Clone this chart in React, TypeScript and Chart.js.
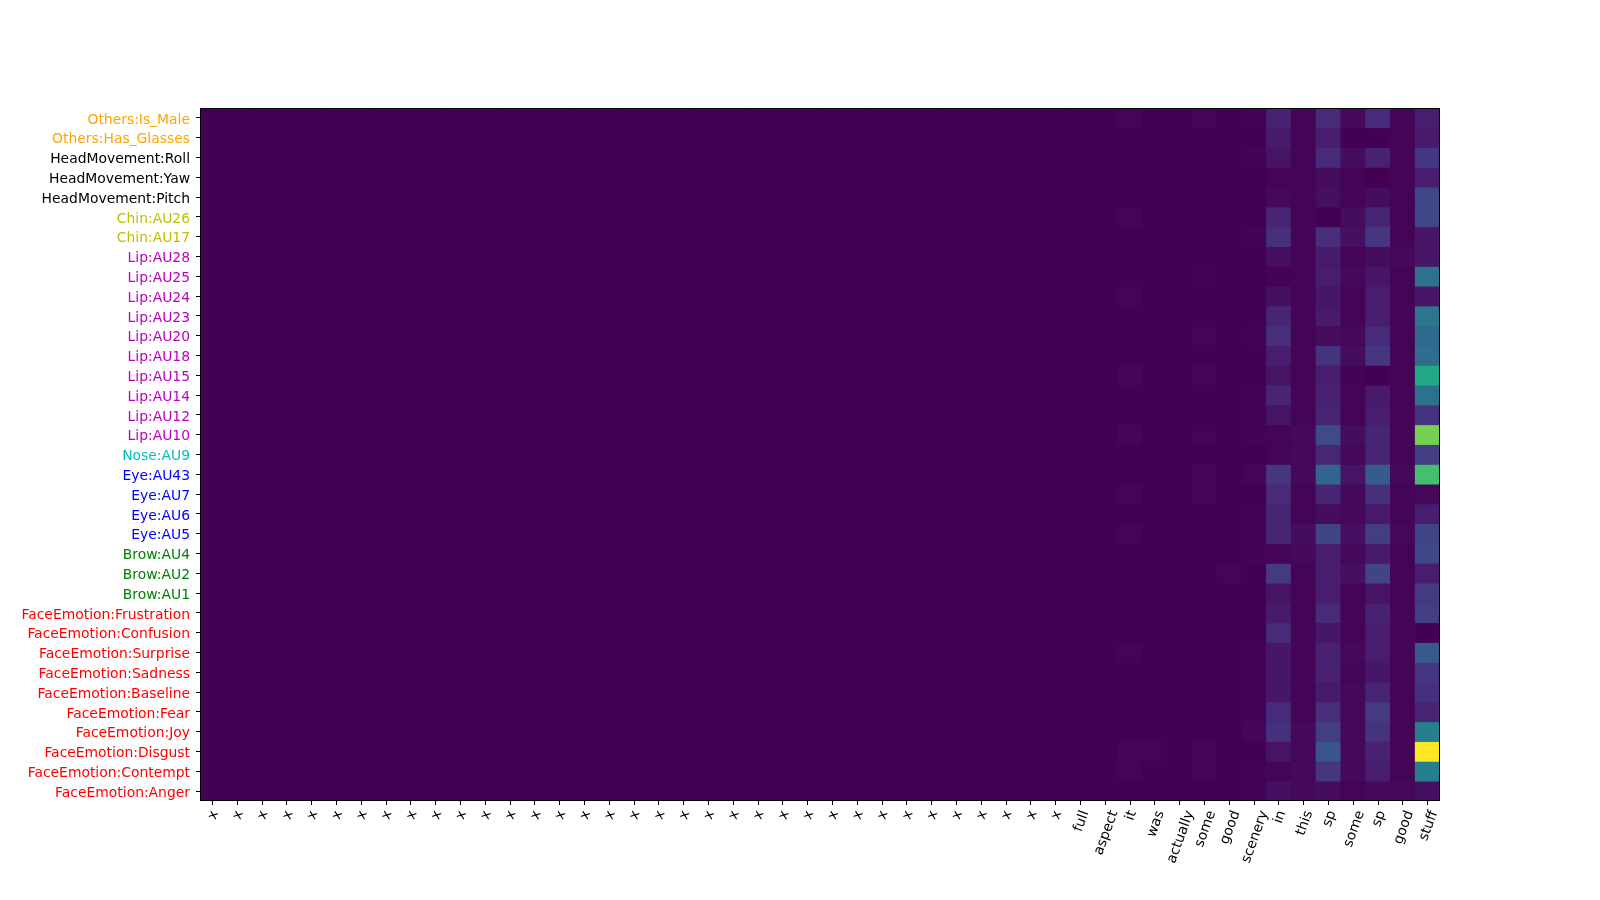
import React, { useEffect, useRef } from "react";
import { Chart, registerables } from "chart.js";

Chart.register(...registerables);

const wordLabels = [
  "x", "x", "x", "x", "x", "x", "x", "x", "x", "x",
  "x", "x", "x", "x", "x", "x", "x", "x", "x", "x",
  "x", "x", "x", "x", "x", "x", "x", "x", "x", "x",
  "x", "x", "x", "x", "x",
  "full", "aspect", "it", "was", "actually", "some", "good", "scenery",
  "in", "this", "sp", "some", "sp", "good", "stuff",
];

const featureLabels = [
  "Others:Is_Male", "Others:Has_Glasses",
  "HeadMovement:Roll", "HeadMovement:Yaw", "HeadMovement:Pitch",
  "Chin:AU26", "Chin:AU17",
  "Lip:AU28", "Lip:AU25", "Lip:AU24", "Lip:AU23", "Lip:AU20",
  "Lip:AU18", "Lip:AU15", "Lip:AU14", "Lip:AU12", "Lip:AU10",
  "Nose:AU9",
  "Eye:AU43", "Eye:AU7", "Eye:AU6", "Eye:AU5",
  "Brow:AU4", "Brow:AU2", "Brow:AU1",
  "FaceEmotion:Frustration", "FaceEmotion:Confusion", "FaceEmotion:Surprise",
  "FaceEmotion:Sadness", "FaceEmotion:Baseline", "FaceEmotion:Fear",
  "FaceEmotion:Joy", "FaceEmotion:Disgust", "FaceEmotion:Contempt", "FaceEmotion:Anger",
];

const featureColors = [
  "#ffa500", "#ffa500",
  "#000000", "#000000", "#000000",
  "#bfbf00", "#bfbf00",
  "#bf00bf", "#bf00bf", "#bf00bf", "#bf00bf", "#bf00bf",
  "#bf00bf", "#bf00bf", "#bf00bf", "#bf00bf", "#bf00bf",
  "#00bfbf",
  "#0000ff", "#0000ff", "#0000ff", "#0000ff",
  "#008000", "#008000", "#008000",
  "#ff0000", "#ff0000", "#ff0000", "#ff0000", "#ff0000",
  "#ff0000", "#ff0000", "#ff0000", "#ff0000", "#ff0000",
];

// attention values, one row per feature, one column per word (normalized 0..1)
const rowIsMale      = [0,0,0,0,0,0,0,0,0,0, 0,0,0,0,0,0,0,0,0,0, 0,0,0,0,0,0,0,0,0,0, 0,0,0,0,0, 0,0,0.008,0,0,0.008,0,0.006, 0.09,0.01,0.12,0.02,0.12,0.01,0.08];
const rowHasGlasses  = [0,0,0,0,0,0,0,0,0,0, 0,0,0,0,0,0,0,0,0,0, 0,0,0,0,0,0,0,0,0,0, 0,0,0,0,0, 0,0,0,0,0,0,0,0, 0.07,0.01,0.08,0,0,0.01,0.07];
const rowRoll        = [0,0,0,0,0,0,0,0,0,0, 0,0,0,0,0,0,0,0,0,0, 0,0,0,0,0,0,0,0,0,0, 0,0,0,0,0, 0,0,0,0,0,0,0,0.006, 0.05,0.01,0.12,0.03,0.09,0.01,0.16];
const rowYaw         = [0,0,0,0,0,0,0,0,0,0, 0,0,0,0,0,0,0,0,0,0, 0,0,0,0,0,0,0,0,0,0, 0,0,0,0,0, 0,0,0,0,0,0,0,0, 0.01,0.01,0.03,0.01,0,0.01,0.08];
const rowPitch       = [0,0,0,0,0,0,0,0,0,0, 0,0,0,0,0,0,0,0,0,0, 0,0,0,0,0,0,0,0,0,0, 0,0,0,0,0, 0,0,0,0,0,0,0,0, 0.02,0.01,0.04,0.01,0.03,0.01,0.21];
const rowAU26        = [0,0,0,0,0,0,0,0,0,0, 0,0,0,0,0,0,0,0,0,0, 0,0,0,0,0,0,0,0,0,0, 0,0,0,0,0, 0,0,0.008,0,0,0,0,0, 0.1,0.01,0,0.03,0.1,0.01,0.21];
const rowAU17        = [0,0,0,0,0,0,0,0,0,0, 0,0,0,0,0,0,0,0,0,0, 0,0,0,0,0,0,0,0,0,0, 0,0,0,0,0, 0,0,0,0,0,0,0,0.006, 0.14,0.01,0.13,0.04,0.16,0.01,0.06];
const rowAU28        = [0,0,0,0,0,0,0,0,0,0, 0,0,0,0,0,0,0,0,0,0, 0,0,0,0,0,0,0,0,0,0, 0,0,0,0,0, 0,0,0,0,0,0,0,0, 0.04,0.01,0.07,0.01,0.03,0.02,0.06];
const rowAU25        = [0,0,0,0,0,0,0,0,0,0, 0,0,0,0,0,0,0,0,0,0, 0,0,0,0,0,0,0,0,0,0, 0,0,0,0,0, 0,0,0,0,0,0.006,0,0, 0.005,0.01,0.08,0.02,0.06,0.01,0.37];
const rowAU24        = [0,0,0,0,0,0,0,0,0,0, 0,0,0,0,0,0,0,0,0,0, 0,0,0,0,0,0,0,0,0,0, 0,0,0,0,0, 0,0,0.008,0,0,0,0,0, 0.04,0.01,0.06,0.01,0.08,0.01,0.06];
const rowAU23        = [0,0,0,0,0,0,0,0,0,0, 0,0,0,0,0,0,0,0,0,0, 0,0,0,0,0,0,0,0,0,0, 0,0,0,0,0, 0,0,0,0,0,0,0,0, 0.1,0.01,0.07,0.01,0.08,0.01,0.39];
const rowAU20        = [0,0,0,0,0,0,0,0,0,0, 0,0,0,0,0,0,0,0,0,0, 0,0,0,0,0,0,0,0,0,0, 0,0,0,0,0, 0,0,0,0,0,0.008,0,0.006, 0.14,0.01,0.03,0.02,0.12,0.01,0.34];
const rowAU18        = [0,0,0,0,0,0,0,0,0,0, 0,0,0,0,0,0,0,0,0,0, 0,0,0,0,0,0,0,0,0,0, 0,0,0,0,0, 0,0,0,0,0,0,0,0, 0.08,0.01,0.15,0.03,0.16,0.01,0.35];
const rowAU15        = [0,0,0,0,0,0,0,0,0,0, 0,0,0,0,0,0,0,0,0,0, 0,0,0,0,0,0,0,0,0,0, 0,0,0,0,0, 0,0,0.014,0,0,0.012,0,0, 0.05,0.01,0.08,0.005,0,0.01,0.6];
const rowAU14        = [0,0,0,0,0,0,0,0,0,0, 0,0,0,0,0,0,0,0,0,0, 0,0,0,0,0,0,0,0,0,0, 0,0,0,0,0, 0,0,0,0,0,0,0,0.006, 0.1,0.01,0.09,0.01,0.07,0.01,0.37];
const rowAU12        = [0,0,0,0,0,0,0,0,0,0, 0,0,0,0,0,0,0,0,0,0, 0,0,0,0,0,0,0,0,0,0, 0,0,0,0,0, 0,0,0,0,0,0,0,0.006, 0.05,0.01,0.1,0.01,0.08,0.01,0.15];
const rowAU10        = [0,0,0,0,0,0,0,0,0,0, 0,0,0,0,0,0,0,0,0,0, 0,0,0,0,0,0,0,0,0,0, 0,0,0,0,0, 0,0,0.012,0,0,0.008,0,0.006, 0.01,0.02,0.23,0.03,0.1,0.01,0.79];
const rowAU9         = [0,0,0,0,0,0,0,0,0,0, 0,0,0,0,0,0,0,0,0,0, 0,0,0,0,0,0,0,0,0,0, 0,0,0,0,0, 0,0,0,0,0,0,0,0, 0.01,0.02,0.11,0.02,0.1,0.01,0.18];
const rowAU43        = [0,0,0,0,0,0,0,0,0,0, 0,0,0,0,0,0,0,0,0,0, 0,0,0,0,0,0,0,0,0,0, 0,0,0,0,0, 0,0,0,0,0,0.008,0,0.008, 0.16,0.02,0.32,0.05,0.29,0.02,0.7];
const rowAU7         = [0,0,0,0,0,0,0,0,0,0, 0,0,0,0,0,0,0,0,0,0, 0,0,0,0,0,0,0,0,0,0, 0,0,0,0,0, 0,0,0.008,0,0,0.008,0,0, 0.12,0.01,0.1,0.02,0.14,0.01,0.02];
const rowAU6         = [0,0,0,0,0,0,0,0,0,0, 0,0,0,0,0,0,0,0,0,0, 0,0,0,0,0,0,0,0,0,0, 0,0,0,0,0, 0,0,0,0,0,0,0,0.006, 0.1,0.01,0.03,0.02,0.07,0.01,0.08];
const rowAU5         = [0,0,0,0,0,0,0,0,0,0, 0,0,0,0,0,0,0,0,0,0, 0,0,0,0,0,0,0,0,0,0, 0,0,0,0,0, 0,0,0.008,0,0,0,0,0.006, 0.1,0.03,0.2,0.04,0.18,0.02,0.2];
const rowAU4         = [0,0,0,0,0,0,0,0,0,0, 0,0,0,0,0,0,0,0,0,0, 0,0,0,0,0,0,0,0,0,0, 0,0,0,0,0, 0,0,0,0,0,0,0,0.006, 0.01,0.02,0.08,0.02,0.07,0.01,0.21];
const rowAU2         = [0,0,0,0,0,0,0,0,0,0, 0,0,0,0,0,0,0,0,0,0, 0,0,0,0,0,0,0,0,0,0, 0,0,0,0,0, 0,0,0,0,0,0,0.008,0, 0.17,0.01,0.08,0.04,0.2,0.01,0.08];
const rowAU1         = [0,0,0,0,0,0,0,0,0,0, 0,0,0,0,0,0,0,0,0,0, 0,0,0,0,0,0,0,0,0,0, 0,0,0,0,0, 0,0,0,0,0,0,0,0, 0.05,0.01,0.08,0.01,0.05,0.01,0.17];
const rowFrustration = [0,0,0,0,0,0,0,0,0,0, 0,0,0,0,0,0,0,0,0,0, 0,0,0,0,0,0,0,0,0,0, 0,0,0,0,0, 0,0,0,0,0,0,0,0, 0.07,0.01,0.12,0.01,0.09,0.01,0.18];
const rowConfusion   = [0,0,0,0,0,0,0,0,0,0, 0,0,0,0,0,0,0,0,0,0, 0,0,0,0,0,0,0,0,0,0, 0,0,0,0,0, 0,0,0,0,0,0,0,0, 0.12,0.01,0.06,0.01,0.08,0.01,0];
const rowSurprise    = [0,0,0,0,0,0,0,0,0,0, 0,0,0,0,0,0,0,0,0,0, 0,0,0,0,0,0,0,0,0,0, 0,0,0,0,0, 0,0,0.008,0,0,0,0,0.006, 0.06,0.01,0.09,0.02,0.08,0.01,0.28];
const rowSadness     = [0,0,0,0,0,0,0,0,0,0, 0,0,0,0,0,0,0,0,0,0, 0,0,0,0,0,0,0,0,0,0, 0,0,0,0,0, 0,0,0,0,0,0,0,0.006, 0.06,0.01,0.09,0.01,0.06,0.01,0.16];
const rowBaseline    = [0,0,0,0,0,0,0,0,0,0, 0,0,0,0,0,0,0,0,0,0, 0,0,0,0,0,0,0,0,0,0, 0,0,0,0,0, 0,0,0,0,0,0,0,0.006, 0.06,0.01,0.07,0.02,0.1,0.01,0.14];
const rowFear        = [0,0,0,0,0,0,0,0,0,0, 0,0,0,0,0,0,0,0,0,0, 0,0,0,0,0,0,0,0,0,0, 0,0,0,0,0, 0,0,0,0,0,0,0,0.006, 0.12,0.01,0.13,0.02,0.17,0.01,0.1];
const rowJoy         = [0,0,0,0,0,0,0,0,0,0, 0,0,0,0,0,0,0,0,0,0, 0,0,0,0,0,0,0,0,0,0, 0,0,0,0,0, 0,0,0,0,0,0,0,0.012, 0.14,0.02,0.18,0.02,0.15,0.01,0.43];
const rowDisgust     = [0,0,0,0,0,0,0,0,0,0, 0,0,0,0,0,0,0,0,0,0, 0,0,0,0,0,0,0,0,0,0, 0,0,0,0,0, 0,0,0.012,0.008,0,0.012,0,0, 0.05,0.02,0.26,0.02,0.09,0.01,1.0];
const rowContempt    = [0,0,0,0,0,0,0,0,0,0, 0,0,0,0,0,0,0,0,0,0, 0,0,0,0,0,0,0,0,0,0, 0,0,0,0,0, 0,0,0.008,0,0,0.008,0,0.006, 0.01,0.02,0.16,0.02,0.08,0.01,0.43];
const rowAnger       = [0,0,0,0,0,0,0,0,0,0, 0,0,0,0,0,0,0,0,0,0, 0,0,0,0,0,0,0,0,0,0, 0,0,0,0,0, 0,0,0,0,0,0,0,0.006, 0.04,0.02,0.03,0.01,0.02,0.02,0.04];

const valueRows = [
  rowIsMale, rowHasGlasses, rowRoll, rowYaw, rowPitch, rowAU26, rowAU17,
  rowAU28, rowAU25, rowAU24, rowAU23, rowAU20, rowAU18, rowAU15, rowAU14, rowAU12, rowAU10,
  rowAU9, rowAU43, rowAU7, rowAU6, rowAU5, rowAU4, rowAU2, rowAU1,
  rowFrustration, rowConfusion, rowSurprise, rowSadness, rowBaseline, rowFear,
  rowJoy, rowDisgust, rowContempt, rowAnger,
];

const VIRIDIS = [
  "#440154", "#471365", "#482475", "#46337f", "#414487", "#3b528b", "#355f8d",
  "#2f6c8e", "#2a788e", "#25848e", "#21918c", "#1e9b8a", "#22a884", "#2fb47c",
  "#44bf70", "#5ec962", "#7ad151", "#9bd93c", "#bddf26", "#dfe318", "#fde725",
];

const FONT_FAMILY = "'DejaVu Sans', sans-serif";
const FONT_SIZE = 13.9;
const X_LABEL_ROTATION = 70;

function hexToRgb(h: string) {
  return [parseInt(h.slice(1, 3), 16), parseInt(h.slice(3, 5), 16), parseInt(h.slice(5, 7), 16)];
}

function viridis(t: number, vmin: number, vmax: number) {
  let u = (t - vmin) / (vmax - vmin || 1);
  u = Math.max(0, Math.min(1, u));
  const p = u * (VIRIDIS.length - 1);
  const i = Math.min(Math.floor(p), VIRIDIS.length - 2);
  const f = p - i;
  const a = hexToRgb(VIRIDIS[i]);
  const b = hexToRgb(VIRIDIS[i + 1]);
  const c = a.map((v, k) => Math.round(v + (b[k] - v) * f));
  return `rgb(${c[0]},${c[1]},${c[2]})`;
}

const framePlugin = {
  id: "frame",
  beforeDatasetsDraw(chart: any) {
    const { ctx, chartArea } = chart;
    ctx.save();
    ctx.fillStyle = VIRIDIS[0];
    ctx.fillRect(chartArea.left, chartArea.top, chartArea.right - chartArea.left, chartArea.bottom - chartArea.top);
    ctx.restore();
  },
  afterDatasetsDraw(chart: any) {
    const { ctx, chartArea } = chart;
    ctx.save();
    ctx.strokeStyle = "#000000";
    ctx.lineWidth = 1;
    ctx.strokeRect(
      Math.round(chartArea.left) + 0.5,
      Math.round(chartArea.top) + 0.5,
      Math.round(chartArea.right - chartArea.left) - 1,
      Math.round(chartArea.bottom - chartArea.top) - 1
    );
    ctx.restore();
  },
  // x tick labels rotated about their own centre (matplotlib rotation=70, ha="center")
  afterDraw(chart: any) {
    const { ctx, chartArea } = chart;
    const xScale = chart.scales.x;
    const labels = chart.data.labels as string[];
    const rot = (X_LABEL_ROTATION * Math.PI) / 180;
    const h = 1.164 * FONT_SIZE;
    const top = chartArea.bottom + 7;
    ctx.save();
    ctx.font = `${FONT_SIZE}px ${FONT_FAMILY}`;
    ctx.fillStyle = "#000000";
    ctx.textAlign = "center";
    ctx.textBaseline = "alphabetic";
    labels.forEach((lab, i) => {
      const w = ctx.measureText(lab).width;
      const cx = xScale.getPixelForTick(i);
      const cy = top + (w / 2) * Math.sin(rot) + (h / 2) * Math.cos(rot);
      ctx.save();
      ctx.translate(cx, cy);
      ctx.rotate(-rot);
      ctx.fillText(lab, 0, 0.346 * FONT_SIZE);
      ctx.restore();
    });
    ctx.restore();
  },
};

export default function App() {
  const canvasRef = useRef<HTMLCanvasElement | null>(null);

  useEffect(() => {
    if (!canvasRef.current) return;
    const all = valueRows.flat();
    const vmin = Math.min(...all);
    const vmax = Math.max(...all);

    const datasets = valueRows.map((row, r) => ({
      label: featureLabels[r],
      data: row.map(() => [r, r + 1]),
      backgroundColor: row.map((v) => viridis(v, vmin, vmax)),
      borderWidth: 0,
      borderSkipped: false,
      grouped: false,
      barPercentage: 1,
      categoryPercentage: 1,
    }));

    const font = { family: FONT_FAMILY, size: FONT_SIZE };

    const chart = new Chart(canvasRef.current, {
      type: "bar",
      data: { labels: wordLabels, datasets: datasets as any },
      plugins: [framePlugin],
      options: {
        responsive: false,
        animation: false,
        devicePixelRatio: 1,
        layout: { padding: { left: 0, top: 108, right: 160, bottom: 0 } },
        plugins: { legend: { display: false }, tooltip: { enabled: false } },
        scales: {
          x: {
            type: "category",
            offset: true,
            grid: { display: true, drawOnChartArea: false, drawTicks: true, tickLength: 4, color: "#000000", offset: false },
            border: { display: false },
            ticks: {
              display: false,
              autoSkip: false,
              maxRotation: 0,
              minRotation: 0,
              font,
            },
            afterFit: (scale: any) => {
              scale.height = 99;
            },
          },
          y: {
            type: "linear",
            min: 0,
            max: featureLabels.length,
            reverse: true,
            grid: { display: true, drawOnChartArea: false, drawTicks: true, tickLength: 4, color: "#000000" },
            border: { display: false },
            afterBuildTicks: (scale: any) => {
              scale.ticks = featureLabels.map((_, i) => ({ value: i + 0.5 }));
            },
            ticks: {
              autoSkip: false,
              color: (ctx: any) => featureColors[ctx.index] || "#000000",
              font,
              padding: 6,
              labelOffset: 2,
              callback: (_v: any, index: number) => featureLabels[index],
            },
            afterFit: (scale: any) => {
              scale.width = 200;
            },
          },
        },
      },
    });
    return () => chart.destroy();
  }, []);

  return (
    <div style={{ position: "absolute", left: 0, top: 0, width: 1600, height: 900, background: "#ffffff" }}>
      <canvas ref={canvasRef} width={1600} height={900} style={{ width: 1600, height: 900, display: "block" }} />
    </div>
  );
}
